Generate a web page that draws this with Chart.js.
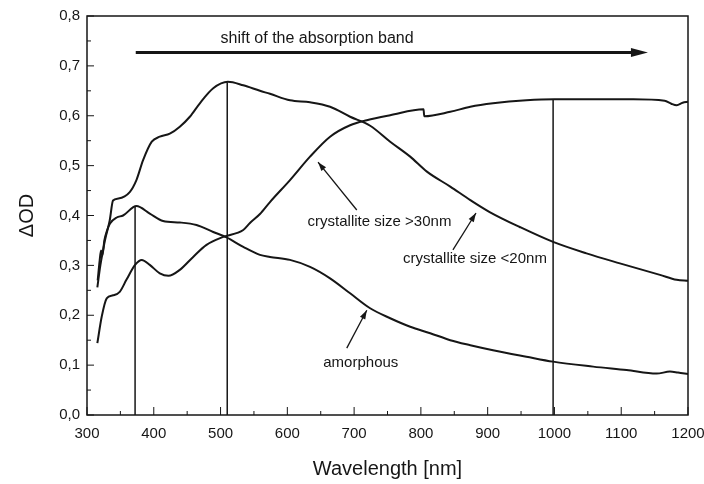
<!DOCTYPE html>
<html>
<head>
<meta charset="utf-8">
<script src="https://cdn.jsdelivr.net/npm/chart.js@4/dist/chart.umd.min.js"></script>
<style>
  html, body { margin: 0; background: #fff; }
  #wrap { width: 704px; height: 484px; }
</style>
</head>
<body>
<div id="wrap"><canvas id="c"></canvas></div>
<script>
// crystallite size <20nm
const wl20 = [315.5, 320, 324, 327, 334, 339, 347, 364, 374, 384, 397, 409, 424, 439, 454, 469, 489, 511, 534, 559, 574, 604, 634, 664, 694, 724, 754, 784, 809, 844, 874, 903, 948, 998, 1048, 1098, 1158, 1183, 1200];
const od20 = [0.256, 0.30, 0.33, 0.351, 0.39, 0.43, 0.434, 0.447, 0.471, 0.511, 0.548, 0.558, 0.564, 0.578, 0.598, 0.625, 0.655, 0.668, 0.661, 0.650, 0.644, 0.631, 0.627, 0.618, 0.598, 0.580, 0.548, 0.518, 0.488, 0.458, 0.431, 0.407, 0.377, 0.347, 0.324, 0.304, 0.281, 0.271, 0.269];

// crystallite size >30nm
const wl30 = [315.5, 322, 329.5, 339, 349, 359, 372, 382, 394, 409, 422, 439, 459, 479, 504, 534, 544, 559, 574, 604, 634, 664, 694, 719, 754, 804, 805, 844, 874, 908, 958, 1000, 1058, 1118, 1165, 1175, 1183, 1192, 1200];
const od30 = [0.144, 0.197, 0.234, 0.240, 0.247, 0.271, 0.301, 0.311, 0.301, 0.284, 0.279, 0.291, 0.317, 0.341, 0.357, 0.371, 0.385, 0.403, 0.427, 0.471, 0.518, 0.558, 0.581, 0.591, 0.601, 0.613, 0.599, 0.608, 0.618, 0.625, 0.631, 0.633, 0.633, 0.633, 0.630, 0.624, 0.621, 0.626, 0.628];

// amorphous
const wlAm = [316, 319, 321, 323, 326, 330, 334.5, 344.5, 354, 374, 394, 414, 439, 464, 489, 509, 534, 559, 574, 604, 634, 664, 694, 724, 754, 784, 814, 844, 874, 908, 958, 998, 1058, 1108, 1153, 1173, 1185, 1200];
const odAm = [0.27, 0.31, 0.33, 0.32, 0.35, 0.37, 0.384, 0.396, 0.40, 0.419, 0.404, 0.389, 0.386, 0.381, 0.367, 0.356, 0.337, 0.321, 0.317, 0.311, 0.297, 0.274, 0.244, 0.214, 0.194, 0.177, 0.164, 0.150, 0.140, 0.130, 0.117, 0.107, 0.097, 0.090, 0.083, 0.087, 0.085, 0.082];

// band maxima (vertical lines)
const peakWl = [372, 510, 998];
const peakOd = [0.418, 0.667, 0.633];

// "shift of the absorption band" arrow
const shiftWl = [373, 1131];
const shiftOd = 0.727;

// curve labels: text, centre, arrow tail, arrow tip
const labelText = ['crystallite size >30nm', 'crystallite size <20nm', 'amorphous'];
const labelWl = [738, 881, 710];
const labelOd = [0.387, 0.313, 0.104];
const tailWl = [704, 848, 689];
const tailOd = [0.411, 0.331, 0.134];
const tipWl = [646, 882.5, 719];
const tipOd = [0.507, 0.405, 0.210];

const ink = '#161616';
const family = '"Liberation Sans", Arial, Helvetica, sans-serif';

const pts = (xs, ys) => xs.map((v, i) => ({ x: v, y: Array.isArray(ys) ? ys[i] : ys }));

function head(ctx, x0, y0, x1, y1, len, half) {
  const ang = Math.atan2(y1 - y0, x1 - x0);
  ctx.beginPath();
  ctx.moveTo(x1, y1);
  ctx.lineTo(x1 - len * Math.cos(ang) + half * Math.sin(ang), y1 - len * Math.sin(ang) - half * Math.cos(ang));
  ctx.lineTo(x1 - len * Math.cos(ang) - half * Math.sin(ang), y1 - len * Math.sin(ang) + half * Math.cos(ang));
  ctx.closePath();
  ctx.fill();
}

const decor = {
  id: 'decor',
  afterDatasetsDraw(chart) {
    const { ctx, chartArea: a, scales: { x, y } } = chart;
    ctx.save();
    ctx.strokeStyle = ink;
    ctx.fillStyle = ink;

    // frame
    ctx.lineWidth = 1.5;
    ctx.strokeRect(a.left, a.top, a.right - a.left, a.bottom - a.top);

    // inward ticks, major + minor
    ctx.lineWidth = 1;
    ctx.beginPath();
    x.ticks.forEach((t, i) => {
      const px = x.getPixelForValue(t.value);
      ctx.moveTo(px, a.bottom); ctx.lineTo(px, a.bottom - 8);
      if (i < x.ticks.length - 1) {
        const mx = x.getPixelForValue((t.value + x.ticks[i + 1].value) / 2);
        ctx.moveTo(mx, a.bottom); ctx.lineTo(mx, a.bottom - 4);
      }
    });
    y.ticks.forEach((t, i) => {
      const py = y.getPixelForValue(t.value);
      ctx.moveTo(a.left, py); ctx.lineTo(a.left + 7, py);
      if (i < y.ticks.length - 1) {
        const my = y.getPixelForValue((t.value + y.ticks[i + 1].value) / 2);
        ctx.moveTo(a.left, my); ctx.lineTo(a.left + 4, my);
      }
    });
    ctx.stroke();

    // shift arrow head
    const sx0 = x.getPixelForValue(shiftWl[0]), sx1 = x.getPixelForValue(shiftWl[1]);
    const sy = y.getPixelForValue(shiftOd);
    head(ctx, sx0, sy, sx1 + 6, sy, 17, 4.5);

    ctx.font = '16px ' + family;
    ctx.textBaseline = 'alphabetic';
    ctx.textAlign = 'left';
    ctx.fillText('shift of the absorption band', x.getPixelForValue(500), y.getPixelForValue(0.745));

    // curve labels and pointer arrows
    ctx.font = '15px ' + family;
    ctx.textAlign = 'center';
    ctx.textBaseline = 'middle';
    ctx.lineWidth = 1.3;
    labelText.forEach((txt, i) => {
      ctx.fillText(txt, x.getPixelForValue(labelWl[i]), y.getPixelForValue(labelOd[i]));
      const x0 = x.getPixelForValue(tailWl[i]), y0 = y.getPixelForValue(tailOd[i]);
      const x1 = x.getPixelForValue(tipWl[i]), y1 = y.getPixelForValue(tipOd[i]);
      ctx.beginPath(); ctx.moveTo(x0, y0); ctx.lineTo(x1, y1); ctx.stroke();
      head(ctx, x0, y0, x1, y1, 9, 3);
    });
    ctx.restore();
  }
};

const curve = (data) => ({
  data, borderColor: ink, borderWidth: 2, pointRadius: 0,
  cubicInterpolationMode: 'monotone', fill: false
});
const straight = (data, w) => ({
  data, borderColor: ink, borderWidth: w, pointRadius: 0, tension: 0, fill: false
});

const datasets = [
  curve(pts(wl20, od20)),
  curve(pts(wl30, od30)),
  curve(pts(wlAm, odAm)),
  straight(pts(shiftWl, shiftOd), 3)
];
peakWl.forEach((w, i) => datasets.push(straight([{ x: w, y: 0 }, { x: w, y: peakOd[i] }], 1.5)));

new Chart(document.getElementById('c'), {
  type: 'line',
  data: { datasets },
  options: {
    responsive: true,
    maintainAspectRatio: false,
    animation: false,
    layout: { padding: { left: 0, right: 16, top: 16, bottom: 0 } },
    plugins: { legend: { display: false }, tooltip: { enabled: false } },
    scales: {
      x: {
        type: 'linear', min: 300, max: 1200,
        grid: { display: false, drawTicks: false },
        border: { display: false },
        ticks: { stepSize: 100, color: ink, padding: 10, font: { family, size: 15 }, callback: v => String(v) },
        title: { display: true, text: 'Wavelength [nm]', color: ink, font: { family, size: 20 }, padding: { top: 0, bottom: 3 } },
        afterFit(s) { s.height = 69; s.paddingLeft = 0; s.paddingRight = 0; }
      },
      y: {
        min: 0, max: 0.8,
        grid: { display: false, drawTicks: false },
        border: { display: false },
        ticks: { stepSize: 0.1, color: ink, padding: 7, font: { family, size: 15 }, callback: v => v.toFixed(1).replace('.', ',') },
        title: { display: true, text: 'ΔOD', color: ink, font: { family, size: 20 }, padding: { top: 15, bottom: 0 } },
        afterFit(s) { s.width = 87; s.paddingTop = 0; s.paddingBottom = 0; }
      }
    }
  },
  plugins: [decor]
});
</script>
</body>
</html>
